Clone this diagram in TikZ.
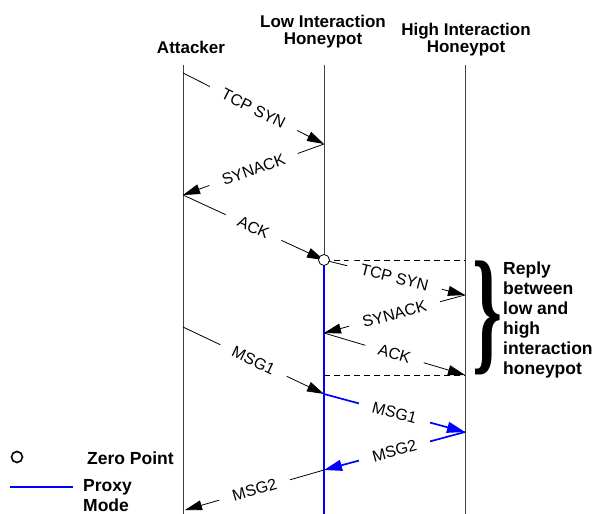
\documentclass[tikz,border=0pt]{standalone}
\usepackage{fontspec}
\setmainfont{Liberation Sans}
\newfontfamily\bracefont{Liberation Serif}
\usetikzlibrary{arrows.meta}
\definecolor{proxyblue}{RGB}{0,0,255}
\begin{document}
\begin{tikzpicture}[x=1pt,y=-1pt,
  head/.style={font=\fontsize{17}{17}\selectfont\bfseries, align=center, inner sep=0},
  msg/.style={line width=0.8pt, -{Triangle[length=17pt,width=10pt]}},
  bmsg/.style={msg, draw=proxyblue, line width=1.7pt, -{Triangle[length=18pt,width=11pt]}},
  lbl/.style={font=\fontsize{16}{18}\selectfont, sloped, fill=white, inner xsep=14pt, inner ysep=1pt, midway},
  life/.style={line width=0.8pt, draw=black!75},
  dsh/.style={line width=0.8pt, dash pattern=on 6pt off 4pt},
  legend/.style={font=\fontsize{17.5}{20}\selectfont\bfseries, align=left, inner sep=0}]
\useasboundingbox (0,0) rectangle (592,514);
% heads
\node[head] (hA) at (191,47) {Attacker};
\node[head] (hL) at (323,32) {Low Interaction\\Honeypot};
\node[head] (hH) at (466,40) {High Interaction\\Honeypot};
% lifelines
\coordinate (At) at (183,65); \coordinate (Ab) at (183,514);
\coordinate (Lt) at (324,65); \coordinate (Lb) at (324,514);
\coordinate (Ht) at (465,65); \coordinate (Hb) at (465,514);
\draw[life] (At) -- (Ab);
\draw[life] (Lt) -- (Lb);
\draw[life] (Ht) -- (Hb);
% points
\coordinate (a1) at (183,73);  \coordinate (l1) at (324,144);
\coordinate (a2) at (183,195); \coordinate (z) at (324,260);
\coordinate (h1) at (465,260);
\coordinate (h2) at (465,295); \coordinate (l3) at (324,333);
\coordinate (h3) at (465,375); \coordinate (l4) at (324,375);
\coordinate (a4) at (183,327); \coordinate (l5) at (324,394);
\coordinate (h5) at (465,432); \coordinate (l6) at (324,470);
\coordinate (a6) at (185,510);
% proxy line
\draw[proxyblue, line width=1.7pt] (z) -- (Lb);
% dashed
\draw[dsh] (z) -- (h1);
\draw[dsh] (l4) -- (h3);
% messages
\draw[msg] (a1) -- node[lbl]{TCP SYN} (l1);
\draw[msg] (l1) -- node[lbl]{SYNACK} (a2);
\draw[msg] (a2) -- node[lbl]{ACK} (z);
\draw[msg] (z) -- node[lbl]{TCP SYN} (h2);
\draw[msg] (h2) -- node[lbl]{SYNACK} (l3);
\draw[msg] (l3) -- node[lbl]{ACK} (h3);
\draw[msg] (a4) -- node[lbl]{MSG1} (l5);
\draw[bmsg] (l5) -- node[lbl]{MSG1} (h5);
\draw[bmsg] (h5) -- node[lbl]{MSG2} (l6);
\draw[msg] (l6) -- node[lbl]{MSG2} (a6);
% zero point
\node[circle, draw, fill=white, line width=0.8pt, minimum size=11pt, inner sep=0] (zp) at (z) {};
% brace
\node[inner sep=0] (brace) at (487,318) {\resizebox*{30pt}{114pt}{\bracefont\bfseries\}}};
\node[legend, anchor=north west] (reply) at (503,262) {Reply\\between\\low and\\high\\interaction\\honeypot};
% legend
\node[circle, draw, line width=1.6pt, minimum size=11pt, inner sep=0] (lc) at (17,457) {};
\node[legend, anchor=west] (zpt) at (87,458) {Zero Point};
\coordinate (lb1) at (10,487); \coordinate (lb2) at (73,487);
\draw[proxyblue, line width=1.7pt] (lb1) -- (lb2);
\node[legend, anchor=north west] (pm) at (83,479) {Proxy\\Mode};
\end{tikzpicture}
\end{document}
